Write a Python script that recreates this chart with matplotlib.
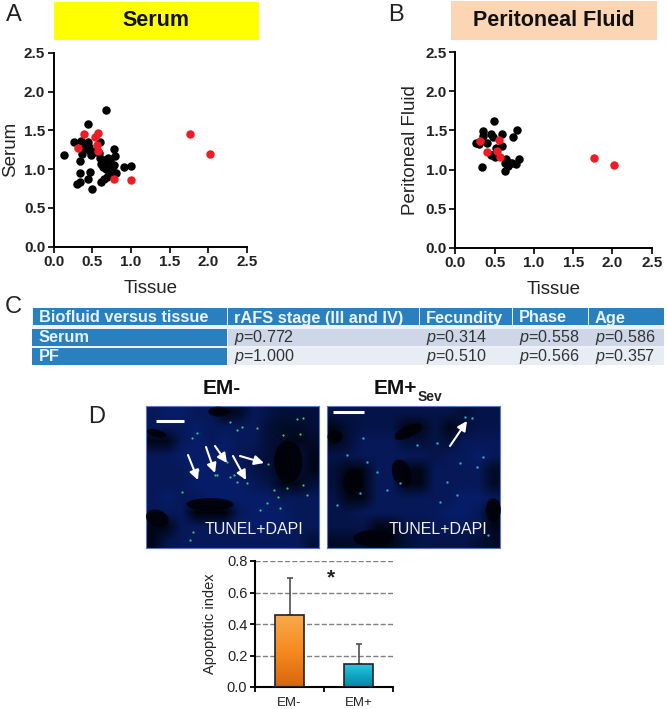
"""Serum / peritoneal fluid scatter panels, p-value table, TUNEL panels, apoptotic index bars."""

import matplotlib

matplotlib.use("Agg")

import matplotlib.pyplot as plt
import numpy as np
from matplotlib.colors import LinearSegmentedColormap
from matplotlib.patches import Ellipse, Rectangle

plt.rcParams["font.family"] = ["Liberation Sans", "DejaVu Sans"]
plt.rcParams["mathtext.fontset"] = "custom"
plt.rcParams["mathtext.it"] = "Liberation Sans:italic"
plt.rcParams["mathtext.rm"] = "Liberation Sans"

W, H = 667, 709

# Panel A
serum_x = [.137, .27, .44, .68, .35, .44, .41, .46, .365, .34, .49, .60, .59, .785, .80, .60, .665,
           .73, .78, .64, .71, .62, .91, 1.0, .81, .69, .61, .65, .34, .47, .45, .34, .31, .50,
           .38, .47, .52, .66, .70, .75, .68, .63, .73]
serum_y = [1.18, 1.35, 1.58, 1.765, 1.37, 1.35, 1.29, 1.29, 1.20, 1.10, 1.18, 1.35, 1.21, 1.255, 1.17, 1.14, 1.12,
           1.10, 1.05, 1.03, .99, 1.07, 1.03, 1.04, .95, .90, .84, .87, .95, .97, .88, .83, .81, .75,
           1.25, 1.24, 1.22, 1.06, 1.14, 1.02, 1.00, 1.11, .92]
serum_red_x = [.40, .32, .58, .53, .56, .575, .78, 1.0, 1.76, 2.02]
serum_red_y = [1.46, 1.275, 1.47, 1.42, 1.31, 1.24, .87, .855, 1.46, 1.20]

# Panel B
pf_x = [.49, .355, .79, .60, .46, .73, .355, .475, .26, .305, .40, .595, .475, .505, .34, .645, .63, .695, .805,
        .77, .63, .675, .52, .45, .72]
pf_y = [1.62, 1.49, 1.505, 1.455, 1.46, 1.41, 1.43, 1.41, 1.345, 1.33, 1.335, 1.30, 1.185, 1.165, 1.03, 1.13, 1.08,
        1.08, 1.13, 1.065, .985, 1.04, 1.28, 1.19, 1.09]
pf_red_x = [.32, .55, .40, .53, .575, 1.76, 2.02]
pf_red_y = [1.365, 1.38, 1.22, 1.24, 1.165, 1.145, 1.06]

scatter_ticks = [0.0, 0.5, 1.0, 1.5, 2.0, 2.5]

# Panel C
col_labels = ["Biofluid versus tissue", "rAFS stage (III and IV)", "Fecundity", "Phase", "Age"]
row_labels = ["Serum", "PF"]
serum_p = ["0.772", "0.314", "0.558", "0.586"]
pf_p = ["1.000", "0.510", "0.566", "0.357"]

# Panel D bars
groups = ["EM-", "EM+"]
apoptotic_index = [0.455, 0.145]
apoptotic_upper = [0.69, 0.27]
bar_ticks = [0.0, 0.2, 0.4, 0.6, 0.8]

# Micrographs: coarse blue brightness, one string per row
tissue_left = ["566551254333", "555655553223", "115656553212", "556666543141",
               "555666543131", "555666654113", "565566666555", "555000566655",
               "115555666655", "145555555553"]
tissue_right = ["444444444344", "134441141344", "135553343555", "445555545565",
                "311551155552", "301551155552", "411555555665", "445555556651",
                "444114455551", "222113444432"]
green_x = [335, 350, 405, 450, 470, 485, 650, 670, 660, 610, 440, 355, 412, 450, 462, 500, 565, 583, 600, 620,
           670, 680, 560, 595, 540, 305, 340, 330, 530, 470]
green_y = [130, 115, 240, 80, 105, 95, 72, 70, 118, 120, 200, 225, 240, 245, 240, 265, 207, 285, 340, 280,
           270, 300, 325, 305, 345, 290, 410, 435, 100, 260]
cyan_x = [1155, 1175, 860, 890, 920, 1140, 1210, 1130, 1080, 800, 770, 1010, 840, 960, 1070, 1190, 1100, 1225, 850]
cyan_y = [67, 70, 200, 230, 285, 205, 185, 300, 320, 180, 330, 150, 295, 265, 145, 215, 260, 420, 130]

# dark lumens in the micrographs (centre x, centre y, width, height, angle), crop pixels of the reference
lumens = [(390, 328, 140, 38, 0), (232, 370, 70, 50, 20), (230, 115, 60, 22, 15), (415, 50, 60, 30, 0),
          (625, 200, 85, 125, 0), (820, 260, 60, 80, 10), (965, 235, 55, 85, -20), (880, 430, 120, 50, 0),
          (985, 110, 90, 35, -25), (1240, 345, 45, 70, 0), (765, 125, 45, 40, 0)]

BLUE_CMAP = LinearSegmentedColormap.from_list("dapi", ["#000208", "#081f70"])


def px_axes(fig, left, right, top, bottom):
    return fig.add_axes([left / W, 1 - bottom / H, (right - left) / W, (bottom - top) / H])


def draw_scatter(fig, box, xs, ys, red_x, red_y, ylabel, label_pad):
    ax = px_axes(fig, *box)
    ax.scatter(xs, ys, s=37, color="black", linewidths=0, clip_on=False, zorder=2)
    ax.scatter(red_x, red_y, s=37, color="#ee1c25", linewidths=0, clip_on=False, zorder=3)
    ax.set_xlim(0, 2.5)
    ax.set_ylim(0, 2.5)
    ax.set_xticks(scatter_ticks)
    ax.set_yticks(scatter_ticks)
    ax.set_xticklabels([f"{t:.1f}" for t in scatter_ticks], fontsize=11, fontweight="bold", color="#222222")
    ax.set_yticklabels([f"{t:.1f}" for t in scatter_ticks], fontsize=11, fontweight="bold", color="#222222")
    ax.tick_params(width=1.4, length=4, pad=2, color="#222222")
    ax.spines["top"].set_visible(False)
    ax.spines["right"].set_visible(False)
    ax.spines["left"].set_linewidth(1.4)
    ax.spines["bottom"].set_linewidth(1.4)
    ax.set_xlabel("Tissue", fontsize=13.5, color="#222222", labelpad=8)
    ax.set_ylabel(ylabel, fontsize=13.5, color="#222222", labelpad=label_pad)
    return ax


def draw_tissue(fig, box, grid):
    ax = px_axes(fig, *box)
    img = np.array([[int(c) for c in row] for row in grid], dtype=float)
    ax.imshow(img, cmap=BLUE_CMAP, vmin=0, vmax=6.5, aspect="auto", interpolation="bilinear")
    ax.set_xticks([])
    ax.set_yticks([])
    for spine in ax.spines.values():
        spine.set_color("#5a78c0")
        spine.set_linewidth(0.8)


fig = plt.figure(figsize=(W / 100, H / 100), dpi=100)

draw_scatter(fig, (53.5, 247, 53, 246.7), serum_x, serum_y, serum_red_x, serum_red_y, "Serum", 3.5)
draw_scatter(fig, (455.3, 651.7, 52.3, 247.7), pf_x, pf_y, pf_red_x, pf_red_y, "Peritoneal Fluid", 5)

draw_tissue(fig, (146, 319, 406, 548), tissue_left)
draw_tissue(fig, (327, 500, 406, 548), tissue_right)

# bar chart
ax_bar = px_axes(fig, 255, 393, 561, 687)
ax_bar.set_xlim(0, 2)
ax_bar.set_ylim(0, 0.8)
ax_bar.set_axisbelow(True)
ax_bar.yaxis.grid(True, linestyle="--", color="#808080", linewidth=1.0)
xpos = np.array([0.5, 1.5])
bars = ax_bar.bar(xpos, apoptotic_index, width=0.42, color="none", edgecolor="#222222", linewidth=1.2, zorder=3)
ax_bar.errorbar(xpos, apoptotic_index,
                yerr=[np.zeros(2), np.array(apoptotic_upper) - np.array(apoptotic_index)],
                fmt="none", ecolor="#505050", elinewidth=1.2, capsize=2.5, capthick=1.2, zorder=2)
gradients = [["#f9a94a", "#f68a1f", "#d9660e"], ["#2fc4df", "#10a5c4", "#0a86a4"]]
for bar, colors in zip(bars, gradients):
    cmap = LinearSegmentedColormap.from_list("bar", colors)
    x0, w, h = bar.get_x(), bar.get_width(), bar.get_height()
    ax_bar.imshow(np.linspace(0, 1, 32)[:, None], cmap=cmap, extent=(x0, x0 + w, 0, h), aspect="auto",
                  origin="upper", zorder=2.5)
ax_bar.set_xlim(0, 2)
ax_bar.set_ylim(0, 0.8)
ax_bar.set_xticks([0, 1, 2])
ax_bar.set_xticklabels([])
ax_bar.set_yticks(bar_ticks)
ax_bar.set_yticklabels([f"{t:.1f}" for t in bar_ticks], fontsize=10.5, color="#222222")
ax_bar.tick_params(width=1.4, length=3.5, pad=2, color="#111111")
for name in ("top", "right"):
    ax_bar.spines[name].set_visible(False)
for name in ("left", "bottom"):
    ax_bar.spines[name].set_linewidth(1.5)
for x, label in zip(xpos, groups):
    ax_bar.text(x, -0.1, label, ha="center", va="center", fontsize=9.5, color="#222222")
ax_bar.set_ylabel("Apoptotic index", fontsize=10.5, color="#222222", labelpad=7)
ax_bar.text(1.1, 0.69, "*", ha="center", va="center", fontsize=15, fontweight="bold", color="#222222")

# everything else placed in pixel coordinates on an overlay
ov = fig.add_axes([0, 0, 1, 1], zorder=10)
ov.set_xlim(0, W)
ov.set_ylim(H, 0)
ov.axis("off")

for label, x, y in [("A", 14, 15), ("B", 396, 15), ("C", 13, 307), ("D", 97, 417)]:
    ov.text(x, y, label, fontsize=17, ha="center", va="center", color="#222222")

ov.add_patch(Rectangle((54, 2), 205, 38, color="#ffff00", linewidth=0))
ov.text(156, 21, "Serum", fontsize=15.5, fontweight="bold", ha="center", va="center", color="#111111")
ov.add_patch(Rectangle((451, 1), 206, 39, color="#fcd5b5", linewidth=0))
ov.text(554, 21, "Peritoneal Fluid", fontsize=15.5, fontweight="bold", ha="center", va="center", color="#111111")

# table C
col_edges = [32, 227, 419, 512, 588, 664]
header_fill = "#2a7fbf"
ov.add_patch(Rectangle((32, 308), 632, 57, color="#eef2f8", linewidth=0))
for i, label in enumerate(col_labels):
    x0, x1 = col_edges[i], col_edges[i + 1]
    ov.add_patch(Rectangle((x0 + 0.5, 308), x1 - x0 - 1, 17, color=header_fill, linewidth=0))
    ov.text(x0 + 7, 318, label, fontsize=11.8, fontweight="bold", color="#e8f2fa", ha="left", va="center")
for label, top, bottom, fill, values in [(row_labels[0], 329, 346, "#cdd7e7", serum_p),
                                         (row_labels[1], 347.5, 365, "#e8edf5", pf_p)]:
    ov.add_patch(Rectangle((32, top), 195, bottom - top, color=header_fill, linewidth=0))
    ov.add_patch(Rectangle((227.5, top), 436.5, bottom - top, color=fill, linewidth=0))
    ov.text(39, (top + bottom) / 2, label, fontsize=11.8, fontweight="bold", color="#e8f2fa", ha="left", va="center")
    for x0, val in zip(col_edges[1:], values):
        ov.text(x0 + 7, (top + bottom) / 2, f"$\\mathit{{p}}$={val}", fontsize=11.6, color="#333333",
                ha="left", va="center")

ov.text(222, 388, "EM-", fontsize=15, fontweight="bold", ha="center", va="center", color="#111111")
ov.text(374, 388, "EM+", fontsize=15, fontweight="bold", ha="left", va="center", color="#111111")
ov.text(418, 397, "Sev", fontsize=10, fontweight="bold", ha="left", va="center", color="#222222")

# micrograph lumens, speckle, arrows, scale bars and labels
for cx, cy, w, h, angle in lumens:
    ov.add_patch(Ellipse((80 + cx / 3, 395 + cy / 3), w / 3, h / 3, angle=angle, color="#000208", linewidth=0,
                         alpha=0.9))
ov.scatter(80 + np.array(green_x) / 3, 395 + np.array(green_y) / 3, s=2.5, color="#2fd07a", linewidths=0)
ov.scatter(80 + np.array(cyan_x) / 3, 395 + np.array(cyan_y) / 3, s=3, color="#2aa8d8", linewidths=0)
for x0, y0, x1, y1 in [(188, 455, 198, 480), (206, 447, 215, 473), (215, 446, 227, 463), (233, 456, 246, 480),
                       (240, 456, 264, 463), (450, 446, 467, 421)]:
    ov.annotate("", xy=(x1, y1), xytext=(x0, y0),
                arrowprops=dict(arrowstyle="-|>", color="white", lw=1.5, mutation_scale=14, shrinkA=0, shrinkB=0))
ov.plot([156, 184], [421, 421], color="white", linewidth=2.2, solid_capstyle="butt")
ov.plot([333, 364], [412, 412], color="white", linewidth=2.2, solid_capstyle="butt")
ov.text(254, 529, "TUNEL+DAPI", fontsize=11.5, color="#f0f0f0", ha="center", va="center")
ov.text(438, 529, "TUNEL+DAPI", fontsize=11.5, color="#f0f0f0", ha="center", va="center")

fig.savefig("out.png", dpi=100)
plt.close(fig)
